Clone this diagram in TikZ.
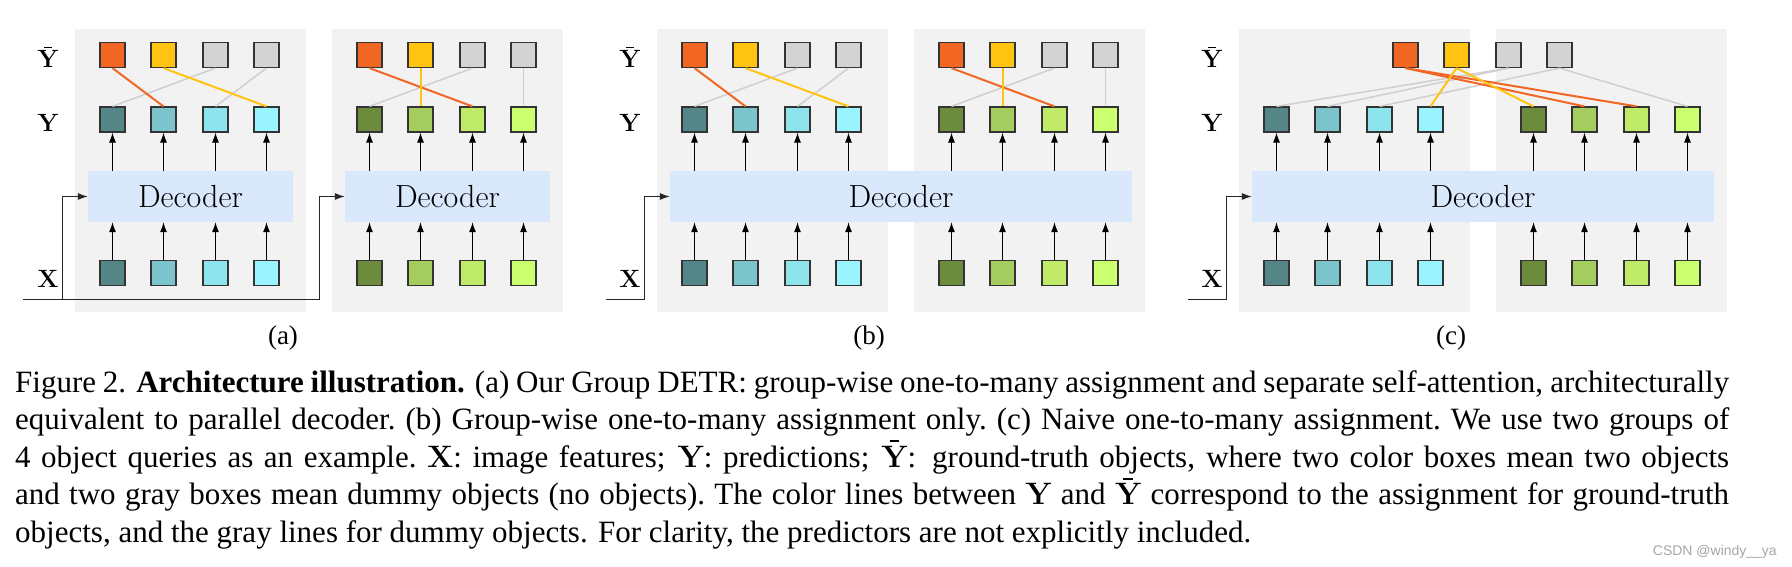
\RequirePackage{fix-cm}
\documentclass[tikz,border=0pt]{standalone}
\usepackage{fontspec}
\newfontfamily\capfont{Liberation Serif}
\newfontfamily\wmfont{Liberation Sans}
\usetikzlibrary{arrows.meta}
\definecolor{bgg}{HTML}{F2F2F2}
\definecolor{decb}{HTML}{DAE8FC}
\definecolor{cor}{HTML}{F26624}
\definecolor{cye}{HTML}{FFC412}
\definecolor{cgr}{HTML}{D3D3D3}
\definecolor{lgr}{HTML}{CFCFCF}
\definecolor{tA}{HTML}{548688}
\definecolor{tB}{HTML}{7CC4CC}
\definecolor{tC}{HTML}{8EE4ED}
\definecolor{tD}{HTML}{99F4FF}
\definecolor{gA}{HTML}{6D8B3D}
\definecolor{gB}{HTML}{A4CC5E}
\definecolor{gC}{HTML}{BFEB69}
\definecolor{gD}{HTML}{CCFF6F}
\newcommand\YB{\leavevmode\vbox{\offinterlineskip\halign{\hfil##\hfil\cr\rule{0.32em}{0.05em}\cr\noalign{\kern0.12em}\textbf{Y}\cr}}}
\newcommand\mb[1]{{\normalfont\bfseries #1}}
\newcommand\mYB{{\normalfont\bfseries\YB}}
\tikzset{
 bgbox/.style={fill=bgg, draw=none, inner sep=0, minimum width=231pt, minimum height=283pt},
 decbox/.style={fill=decb, draw=none, inner sep=0, minimum height=51pt, font=\fontsize{32}{32}\selectfont},
 sq/.style={draw=black!80, line width=1.2pt, minimum size=25pt, inner sep=0},
 arr/.style={line width=1pt, -{Latex[length=10pt,width=7pt]}},
 inln/.style={line width=1pt, draw=black!85},
 colink/.style={line width=2pt},
 grlink/.style={line width=1.5pt, draw=lgr},
 lab/.style={font=\fontsize{25}{25}\selectfont\bfseries, anchor=base},
 sublab/.style={font=\capfont\fontsize{27}{27}\selectfont},
 capline/.style={font=\capfont\fontsize{31}{37}\selectfont, anchor=base west, inner sep=0},
}
% #1 prefix, #2 first x, #3 decoder name, #4 colour prefix
\newcommand\qgroup[4]{%
 \foreach \i/\L/\o in {1/A/0,2/B/51,3/C/103,4/D/154}{%
  \node[sq, fill=#4\L] (#1y\i) at ({#2+\o},119.5) {};
  \node[sq, fill=#4\L] (#1x\i) at ({#2+\o},273) {};
  \draw[arr] (#1y\i.south |- #3.north) -- (#1y\i.south);
  \draw[arr] (#1x\i.north) -- (#1x\i.north |- #3.south);
 }}
% #1 prefix, #2 first x
\newcommand\gtrow[2]{%
 \foreach \i/\c/\o in {1/cor/0,2/cye/51,3/cgr/103,4/cgr/154}{%
  \node[sq, fill=\c] (#1b\i) at ({#2+\o},55) {};
 }}
\begin{document}
\begin{tikzpicture}[x=1pt,y=-1pt]
\useasboundingbox[fill=white] (0,0) rectangle (1792,567);
% ---------------- (a)
\node[bgbox] (abg1) at (190.5,170.5) {};
\node[bgbox] (abg2) at (447.5,170.5) {};
\node[decbox, minimum width=205pt] (adecA) at (190.5,196.5) {Decoder};
\node[decbox, minimum width=205pt] (adecB) at (447.5,196.5) {Decoder};
\qgroup{a1}{112.5}{adecA}{t}
\qgroup{a2}{369.5}{adecB}{g}
\gtrow{a1}{112.5}
\gtrow{a2}{369.5}
\draw[grlink] (a1b3.south) -- (a1y1.north);
\draw[grlink] (a1b4.south) -- (a1y3.north);
\draw[colink, cor] (a1b1.south) -- (a1y2.north);
\draw[colink, cye] (a1b2.south) -- (a1y4.north);
\draw[grlink] (a2b3.south) -- (a2y1.north);
\draw[grlink] (a2b4.south) -- (a2y4.north);
\draw[colink, cor] (a2b1.south) -- (a2y3.north);
\draw[colink, cye] (a2b2.south) -- (a2y2.north);
\node[lab] (alb) at (48,68) {\YB};
\node[lab] (aly) at (48,132) {Y};
\node[lab] (alx) at (48,287) {X};
\coordinate (ain) at (23,299.5);
\coordinate (abr) at (62.5,299.5);
\coordinate (atn) at (319.5,299.5);
\draw[inln] (ain) -- (atn);
\draw[inln, arr] (atn) |- (adecB.west);
\draw[inln, arr] (abr) |- (adecA.west);
\node[sublab] (subA) at (283,338) {(a)};
% ---------------- (b)
\node[bgbox] (bbg1) at (772.5,170.5) {};
\node[bgbox] (bbg2) at (1029.5,170.5) {};
\node[decbox, minimum width=462pt] (bdec) at (901,196.5) {Decoder};
\qgroup{b1}{694.5}{bdec}{t}
\qgroup{b2}{951.5}{bdec}{g}
\gtrow{b1}{694.5}
\gtrow{b2}{951.5}
\draw[grlink] (b1b3.south) -- (b1y1.north);
\draw[grlink] (b1b4.south) -- (b1y3.north);
\draw[colink, cor] (b1b1.south) -- (b1y2.north);
\draw[colink, cye] (b1b2.south) -- (b1y4.north);
\draw[grlink] (b2b3.south) -- (b2y1.north);
\draw[grlink] (b2b4.south) -- (b2y4.north);
\draw[colink, cor] (b2b1.south) -- (b2y3.north);
\draw[colink, cye] (b2b2.south) -- (b2y2.north);
\node[lab] (blb) at (630,68) {\YB};
\node[lab] (bly) at (630,132) {Y};
\node[lab] (blx) at (630,287) {X};
\coordinate (bin) at (606,299.5);
\coordinate (btn) at (644.5,299.5);
\draw[inln] (bin) -- (btn);
\draw[inln, arr] (btn) |- (bdec.west);
\node[sublab] (subB) at (869,338) {(b)};
% ---------------- (c)
\node[bgbox] (cbg1) at (1354.5,170.5) {};
\node[bgbox] (cbg2) at (1611.5,170.5) {};
\node[decbox, minimum width=462pt] (cdec) at (1483,196.5) {Decoder};
\qgroup{c1}{1276.5}{cdec}{t}
\qgroup{c2}{1533.5}{cdec}{g}
\gtrow{c}{1405.5}
\draw[grlink] (cb3.south) -- (c1y1.north);
\draw[grlink] (cb3.south) -- (c1y2.north);
\draw[grlink] (cb4.south) -- (c1y3.north);
\draw[grlink] (cb4.south) -- (c2y4.north);
\draw[colink, cor] (cb1.south) -- (c2y2.north);
\draw[colink, cor] (cb1.south) -- (c2y3.north);
\draw[colink, cye] (cb2.south) -- (c1y4.north);
\draw[colink, cye] (cb2.south) -- (c2y1.north);
\node[lab] (clb) at (1212,68) {\YB};
\node[lab] (cly) at (1212,132) {Y};
\node[lab] (clx) at (1212,287) {X};
\coordinate (cin) at (1188,299.5);
\coordinate (ctn) at (1226.5,299.5);
\draw[inln] (cin) -- (ctn);
\draw[inln, arr] (ctn) |- (cdec.west);
\node[sublab] (subC) at (1451,338) {(c)};
% ---------------- caption
\node[capline] (cap1) at (15,392) {\makebox[1714pt][s]{Figure 2. \textbf{Architecture illustration.} (a) Our Group DETR: group-wise one-to-many assignment and separate self-attention, architecturally}};
\node[capline] (cap2) at (15,429.5) {\makebox[1714pt][s]{equivalent to parallel decoder.\ (b) Group-wise one-to-many assignment only.\ (c) Naive one-to-many assignment.\ We use two groups of}};
\node[capline] (cap3) at (15,467) {\makebox[1714pt][s]{4 object queries as an example.\ \mb{X}: image features; \mb{Y}: predictions; \mYB: ground-truth objects, where two color boxes mean two objects}};
\node[capline] (cap4) at (15,504.5) {\makebox[1714pt][s]{and two gray boxes mean dummy objects (no objects).\ The color lines between \mb{Y} and \mYB\ correspond to the assignment for ground-truth}};
\node[capline] (cap5) at (15,542) {objects, and the gray lines for dummy objects. For clarity, the predictors are not explicitly included.};
\node[font=\wmfont\fontsize{14}{14}\selectfont, text=black!35, anchor=base east, inner sep=0] (wm) at (1777,555) {CSDN @windy\_\_ya};
\end{tikzpicture}
\end{document}
